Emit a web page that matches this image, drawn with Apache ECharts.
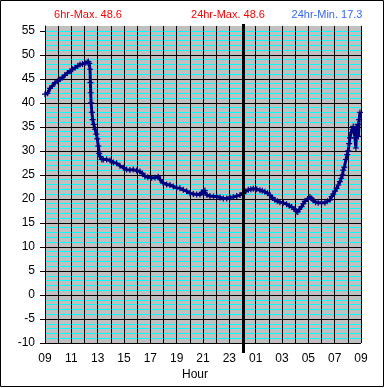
<!DOCTYPE html>
<html><head><meta charset="utf-8">
<script src="https://cdn.jsdelivr.net/npm/echarts@6/dist/echarts.min.js"></script>
<style>html,body{margin:0;padding:0;background:#fff}#c{width:385px;height:388px}</style>
</head><body><div id="c"></div>
<script>
// time in hours since 00:00 of first day (09 .. 33 = next day 09)
const hours = [9.00,9.20,9.38,9.55,9.76,9.95,10.14,10.30,10.52,10.70,10.90,11.10,11.28,11.50,11.66,11.85,12.04,12.20,12.29,12.36,12.42,12.45,12.47,12.50,12.56,12.62,12.70,12.80,12.90,12.97,13.05,13.12,13.18,13.31,13.43,13.68,13.94,14.19,14.44,14.69,14.95,15.20,15.45,15.70,15.95,16.21,16.40,16.59,16.80,17.10,17.35,17.60,17.75,17.98,18.24,18.49,18.74,19.00,19.25,19.50,19.76,20.01,20.26,20.52,20.77,20.90,21.05,21.15,21.30,21.53,21.80,22.04,22.30,22.54,22.80,23.05,23.30,23.56,23.81,24.06,24.25,24.44,24.63,24.82,25.08,25.33,25.50,25.70,25.90,26.08,26.28,26.46,26.65,26.84,27.10,27.35,27.55,27.73,27.92,28.11,28.20,28.31,28.49,28.62,28.74,28.95,29.12,29.25,29.37,29.55,29.75,30.00,30.26,30.45,30.64,30.77,30.89,31.02,31.15,31.28,31.40,31.50,31.60,31.65,31.73,31.86,31.95,32.03,32.10,32.16,32.25,32.35,32.41,32.48,32.54,32.61,32.67,32.75,32.80,32.86,32.92];
const temps = [41.8,42.0,43.0,43.5,44.2,44.5,44.9,45.2,45.8,46.2,46.6,47.0,47.3,47.7,48.0,48.1,48.3,48.4,48.6,48.2,47.0,44.2,42.1,40.0,38.0,36.5,35.5,34.5,33.5,32.5,31.0,29.5,28.8,28.2,28.2,28.2,28.0,27.6,27.4,26.9,26.5,26.1,26.0,26.1,25.9,25.7,25.3,24.7,24.5,24.4,24.4,24.6,24.0,23.3,23.0,22.9,22.6,22.3,22.2,21.9,21.6,21.2,21.0,20.9,20.9,21.3,21.8,21.7,20.8,20.6,20.5,20.5,20.3,20.1,20.1,20.3,20.4,20.6,20.8,21.2,21.6,21.9,22.0,22.1,22.0,21.8,21.7,21.5,21.2,20.8,20.2,19.8,19.5,19.3,19.2,18.9,18.6,18.3,17.9,17.4,17.3,17.8,18.4,19.0,19.5,20.0,20.4,20.1,19.7,19.3,19.2,19.2,19.2,19.5,19.8,20.5,21.0,21.6,22.2,22.9,23.6,24.3,25.0,26.0,26.6,28.2,29.2,30.0,31.5,32.7,33.8,34.5,35.1,34.0,32.7,30.6,34.8,35.5,33.0,36.5,38.0];
const yTicks = [-10,-5,0,5,10,15,20,25,30,35,40,45,50,55];
const xLabelHours = [9,11,13,15,17,19,21,23,25,27,29,31,33];
const dayBreak = 24;
const headTexts = ['6hr-Max. 48.6','24hr-Max. 48.6','24hr-Min. 17.3'];
const xName = 'Hour';

const font = "'Liberation Sans', Arial, sans-serif";
const chart = echarts.init(document.getElementById('c'), null, {renderer:'canvas'});
const data = hours.map((h,i)=>[h,temps[i]]);
const pad = n => (n<10?'0':'')+n;

chart.setOption({
  animation:false,
  backgroundColor:'#fff',
  grid:{left:45, top:26, width:316, height:317, show:true, backgroundColor:'#c0c0c0', borderWidth:0},
  xAxis:{type:'value', min:9, max:33, interval:1, z:1,
    axisLine:{show:true, lineStyle:{color:'#000', width:1}},
    axisTick:{show:false},
    splitLine:{show:true, lineStyle:{color:'#000', width:1}},
    axisLabel:{margin:10, color:'#000', fontFamily:font, fontSize:12,
      customValues: xLabelHours,
      formatter: v => pad(Math.round(v)%24)}
  },
  yAxis:[
    {type:'value', position:'left', min:-10, max:56, interval:1, z:0, show:true,
      axisLine:{show:false}, axisTick:{show:false}, axisLabel:{show:false},
      splitLine:{show:true, showMaxLine:false, lineStyle:{color:'#00ffff', width:1}}},
    {type:'value', position:'left', min:-10, max:56, interval:5, z:1,
      axisLine:{show:true, onZero:false, lineStyle:{color:'#000'}},
      axisTick:{show:true, inside:false, length:5, lineStyle:{color:'#000'}, customValues: yTicks},
      splitLine:{show:true, showMaxLine:false, lineStyle:{color:'#000', width:1}},
      axisLabel:{margin:10, color:'#000', fontFamily:font, fontSize:12, customValues: yTicks}
    }
  ],
  series:[{
    type:'line', data:data, yAxisIndex:1,
    symbol:'path://M2,0H3V2H5V3H3V5H2V3H0V2H2Z', symbolSize:6, showAllSymbol:true,
    itemStyle:{color:'#000080'},
    lineStyle:{color:'#000080', width:3},
    z:3
  }],
  graphic:[]
});

const xMid = chart.convertToPixel({xAxisIndex:0}, dayBreak);
const yTop = chart.convertToPixel({yAxisIndex:1}, 56);
const yBot = chart.convertToPixel({yAxisIndex:1}, -10);
const xL = chart.convertToPixel({xAxisIndex:0}, 9);
const xR = chart.convertToPixel({xAxisIndex:0}, 33);
const xc = Math.round(xMid) + 0.5;
chart.setOption({graphic:[
  {type:'line', z:10, shape:{x1:xc, y1:yTop-2, x2:xc, y2:yBot+10}, style:{stroke:'#000', lineWidth:3}},
  {type:'rect', z:10, shape:{x:0.5, y:0.5, width:383, height:386}, style:{fill:'none', stroke:'#000', lineWidth:1}},
  {type:'text', z:10, x:88, y:15, style:{text:headTexts[0], fill:'#ff0000', font:'11px '+font, align:'center', verticalAlign:'middle'}},
  {type:'text', z:10, x:228, y:15, style:{text:headTexts[1], fill:'#ff0000', font:'11px '+font, align:'center', verticalAlign:'middle'}},
  {type:'text', z:10, x:327, y:15, style:{text:headTexts[2], fill:'#3366ff', font:'11px '+font, align:'center', verticalAlign:'middle'}},
  {type:'text', z:10, x:(xL+xR)/2 - 8, y:yBot+32, style:{text:xName, fill:'#000', font:'12px '+font, align:'center', verticalAlign:'middle'}}
]});
</script></body></html>
